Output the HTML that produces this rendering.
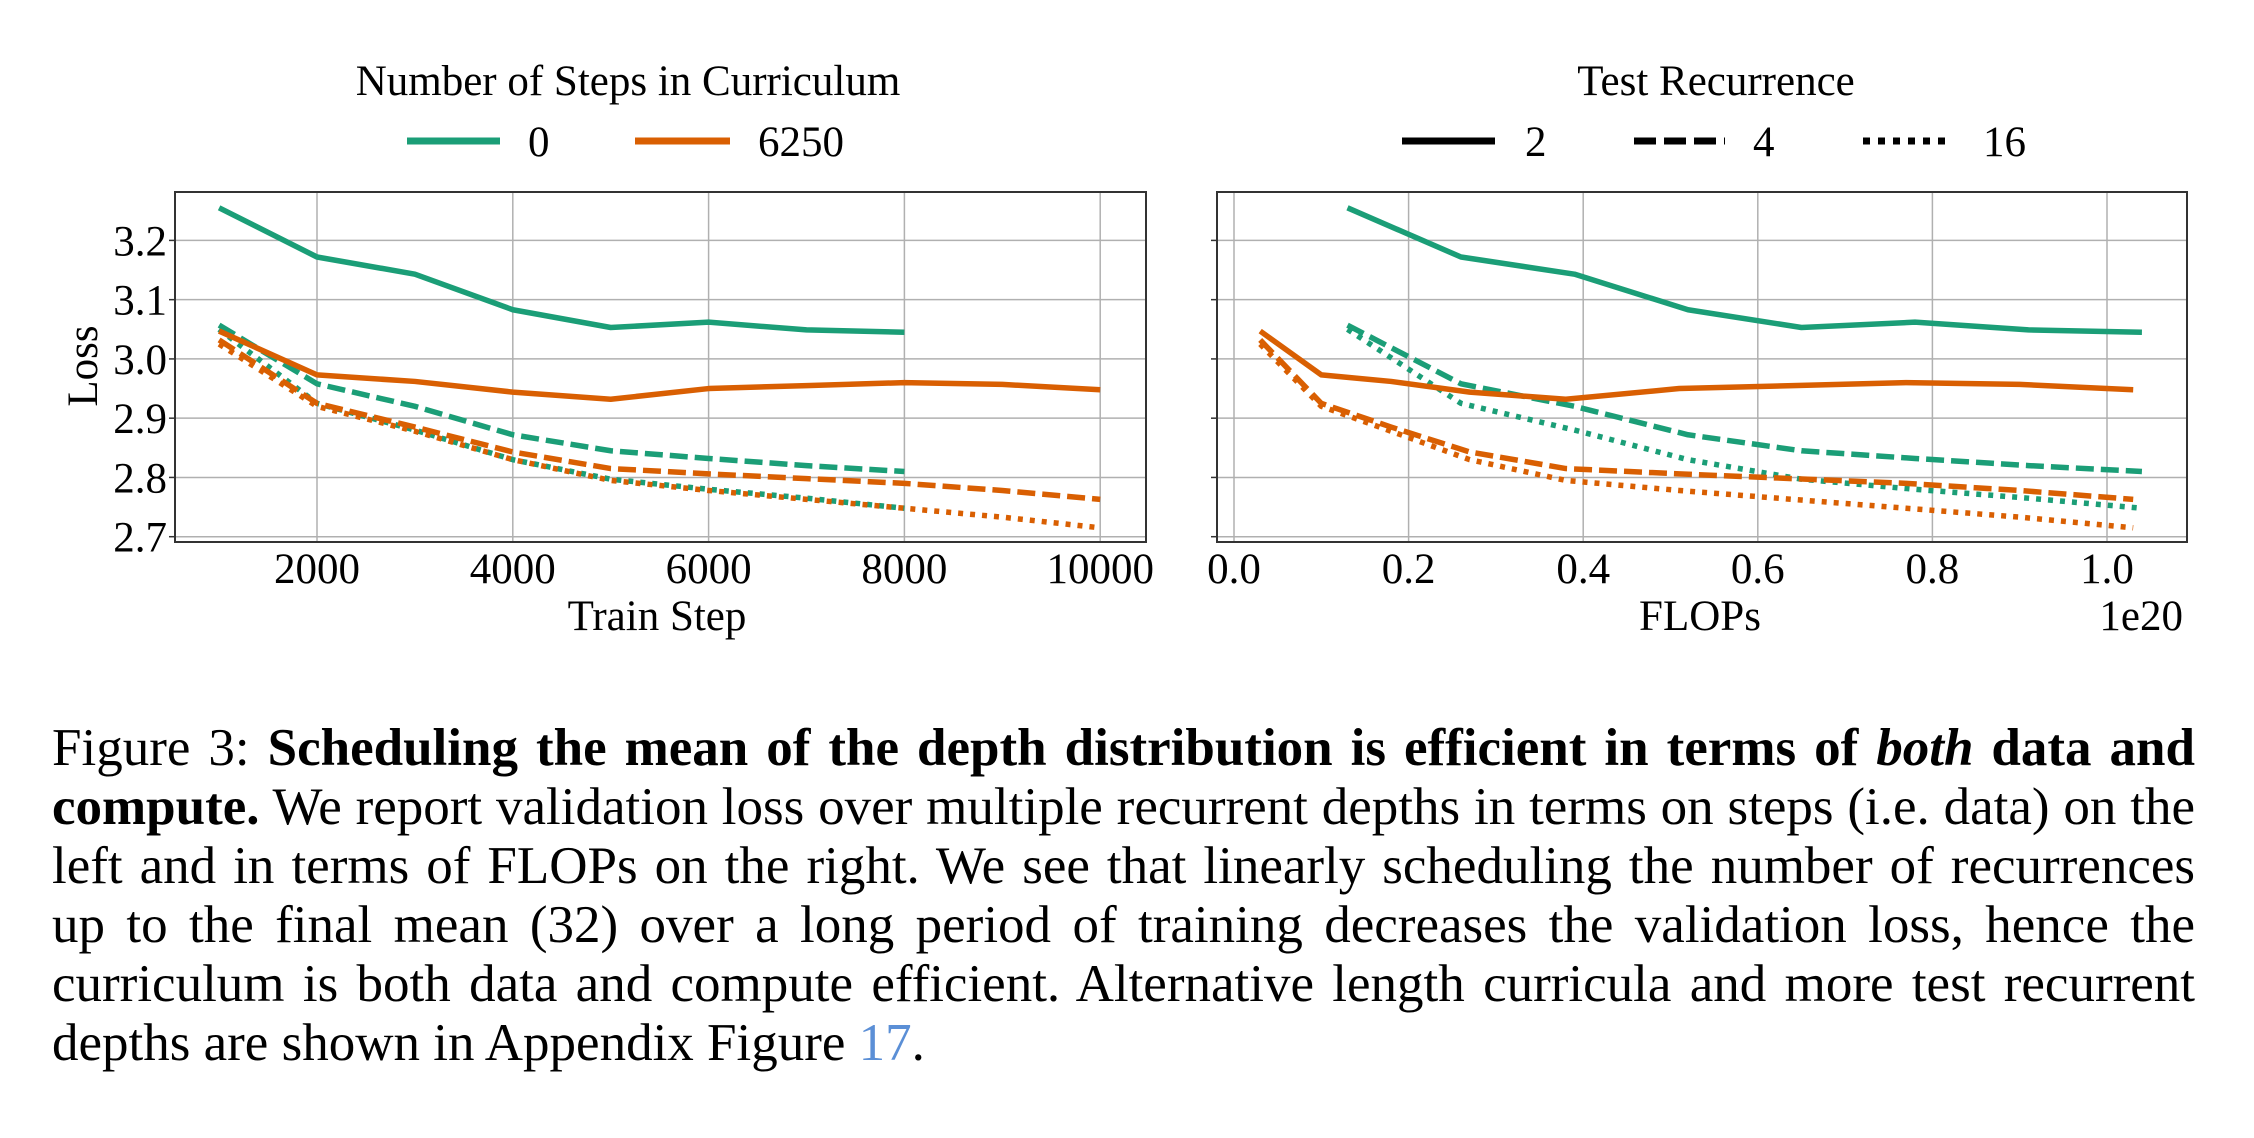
<!DOCTYPE html>
<html><head><meta charset="utf-8"><style>
body{margin:0;background:#fff;width:2254px;height:1138px;overflow:hidden;position:relative;font-family:"Liberation Serif",serif}
svg{position:absolute;left:0;top:0}
.cap{position:absolute;left:52px;width:2143px;font-size:53px;line-height:59px;color:#000}
.ln{text-align:justify;text-align-last:justify;white-space:nowrap;height:59px}
.last{text-align-last:left}
</style></head><body>
<svg id="chart" width="2254" height="700" font-family="Liberation Serif, serif"></svg>
<div class="cap" style="top:719px">
<div class="ln">Figure 3: <b>Scheduling the mean of the depth distribution is efficient in terms of <i>both</i> data and</b></div>
<div class="ln"><b>compute.</b> We report validation loss over multiple recurrent depths in terms on steps (i.e. data) on the</div>
<div class="ln">left and in terms of FLOPs on the right. We see that linearly scheduling the number of recurrences</div>
<div class="ln">up to the final mean (32) over a long period of training decreases the validation loss, hence the</div>
<div class="ln">curriculum is both data and compute efficient. Alternative length curricula and more test recurrent</div>
<div class="ln last">depths are shown in Appendix Figure <span style="color:#5b8fd6">17</span>.</div>
</div>
<script>
const stepsG=[1000,2000,3000,4000,5000,6000,7000,8000];
const stepsO=[1000,2000,3000,4000,5000,6000,7000,8000,9000,10000];
const flopsG=[0.13,0.26,0.39,0.52,0.65,0.78,0.91,1.04];
const flopsO=[0.03,0.10,0.18,0.27,0.38,0.51,0.64,0.77,0.90,1.03];
const g2=[3.255,3.172,3.143,3.083,3.053,3.062,3.049,3.045];
const g4=[3.057,2.958,2.92,2.872,2.845,2.832,2.82,2.81];
const g16=[3.05,2.925,2.88,2.83,2.797,2.78,2.765,2.748];
const o2=[3.047,2.973,2.962,2.944,2.932,2.95,2.955,2.96,2.957,2.948];
const o4=[3.032,2.925,2.885,2.843,2.815,2.806,2.798,2.79,2.778,2.763];
const o16=[3.025,2.92,2.878,2.83,2.795,2.778,2.763,2.748,2.733,2.715];
const yTicks=[2.7,2.8,2.9,3.0,3.1,3.2];
const xTicksL=[2000,4000,6000,8000,10000];
const xTicksR=[0.0,0.2,0.4,0.6,0.8,1.0];
const svg=document.getElementById('chart');
const NS='http://www.w3.org/2000/svg';
const G='#1b9e77',O='#d95f02';
const FS=43;
function mk(t,a,txt){const e=document.createElementNS(NS,t);for(const k in a)e.setAttribute(k,a[k]);if(txt!==undefined)e.textContent=txt;svg.appendChild(e);return e;}
const y=v=>536.7-(v-2.7)*592.6;
const xL=v=>317+(v-2000)*0.0979;
const xR=v=>1234+v*873;
const dash={s:'none',d:'18,7',o:'5,7'};
function panel(x0,x1,xs,xt,fmt,name){
  for(const t of xt){const e=mk('line',{x1:xs(t),x2:xs(t),y1:192,y2:542,stroke:'#b0b0b0','stroke-width':1.5});
    
    const l=mk('text',{x:xs(t),y:583,'font-size':FS,'text-anchor':'middle'},fmt(t));
    }
  for(const t of yTicks){const e=mk('line',{x1:x0,x2:x1,y1:y(t),y2:y(t),stroke:'#b0b0b0','stroke-width':1.5});
    
    mk('line',{x1:x0-6,x2:x0,y1:y(t),y2:y(t),stroke:'#333','stroke-width':1.5});}
  const b=mk('rect',{x:x0,y:192,width:x1-x0,height:350,fill:'none',stroke:'#333','stroke-width':2});
  
}
function series(xs,xv,yv,col,st,name){
  const p=mk('polyline',{points:xv.map((v,i)=>xs(v)+','+y(yv[i])).join(' '),fill:'none',stroke:col,'stroke-width':5.5,'stroke-linejoin':'round','stroke-dasharray':dash[st]});
  
}
panel(175,1146,xL,xTicksL,t=>String(t),'left');
panel(1217,2187,xR,xTicksR,t=>t.toFixed(1),'right');
for(const t of yTicks){const l=mk('text',{x:167,y:y(t)+15,'font-size':FS,'text-anchor':'end'},t.toFixed(1));
  }
[[xL,stepsG,stepsO,'left'],[xR,flopsG,flopsO,'right']].forEach(([xs,xg,xo,n])=>{
  series(xs,xg,g2,G,'s',n+'-green-r2');series(xs,xg,g4,G,'d',n+'-green-r4');series(xs,xg,g16,G,'o',n+'-green-r16');
  series(xs,xo,o2,O,'s',n+'-orange-r2');series(xs,xo,o4,O,'d',n+'-orange-r4');series(xs,xo,o16,O,'o',n+'-orange-r16');
});
let e;
e=mk('text',{x:0,y:0,'font-size':FS,'text-anchor':'middle',transform:'translate(97,366) rotate(-90)'},'Loss');

e=mk('text',{x:657,y:630,'font-size':FS,'text-anchor':'middle'},'Train Step');

e=mk('text',{x:1700,y:630,'font-size':FS,'text-anchor':'middle'},'FLOPs');

e=mk('text',{x:2183,y:630,'font-size':FS,'text-anchor':'end'},'1e20');

e=mk('text',{x:628,y:95,'font-size':FS,'text-anchor':'middle'},'Number of Steps in Curriculum');

e=mk('text',{x:1716,y:95,'font-size':FS,'text-anchor':'middle'},'Test Recurrence');

const leg=[[407,500,G,'s','0',528],[635,730,O,'s','6250',758],[1402,1495,'#000','s','2',1525],[1634,1725,'#000','d','4',1753],[1863,1948,'#000','o','16',1983]];
for(const [a,b,c,s,t,tx] of leg){
  e=mk('line',{x1:a,x2:b,y1:141,y2:141,stroke:c,'stroke-width':7,'stroke-dasharray':s==='d'?'22,8':s==='o'?'7,8':'none'});
  
  e=mk('text',{x:tx,y:156,'font-size':FS},t);
  
}
</script>
</body></html>
